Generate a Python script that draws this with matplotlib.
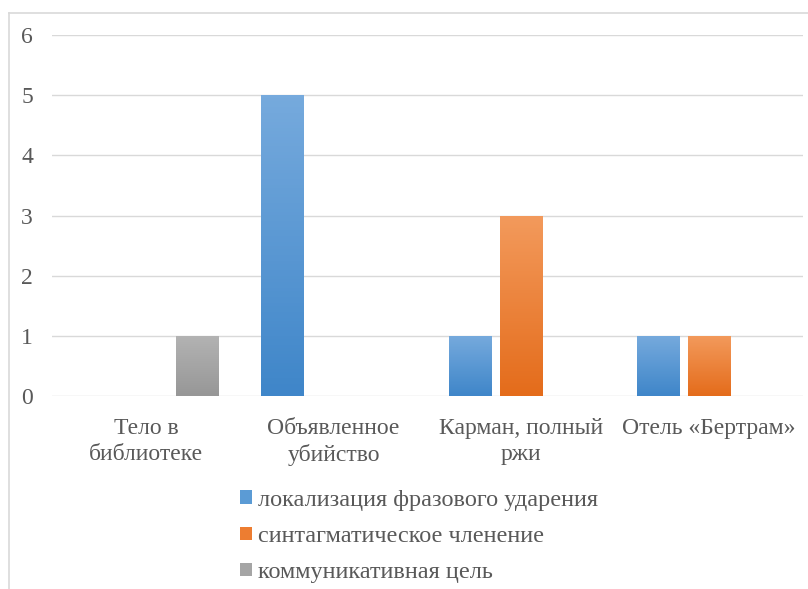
import matplotlib
matplotlib.use('Agg')

import numpy as np
import matplotlib.pyplot as plt
from matplotlib.colors import LinearSegmentedColormap
from matplotlib.lines import Line2D
from matplotlib.patches import Patch

# Data
categories = ["Тело в\nбиблиотеке", "Объявленное\nубийство",
              "Карман, полный\nржи", "Отель «Бертрам»"]
series_names = ["локализация фразового ударения",
                "синтагматическое членение",
                "коммуникативная цель"]
stress = [0, 5, 1, 1]
segmentation = [0, 0, 3, 1]
purpose = [1, 0, 0, 0]
values = [stress, segmentation, purpose]

# (top colour, bottom colour, legend colour)
colors = [("#76aadd", "#3f86c9", "#5b9bd5"),
          ("#f39a5c", "#e46c1b", "#ed7d31"),
          ("#b3b3b3", "#979797", "#a5a5a5")]

plt.rcParams['font.family'] = ['Liberation Serif', 'DejaVu Serif']
text_color = "#595959"
grid_color = "#d9d9d9"

fig = plt.figure(figsize=(8.08, 5.89), dpi=100)
ax = fig.add_axes([52/808, 1 - 396/589, 751/808, 361/589])

x = np.arange(len(categories))
step = 0.274
width = 0.224

for i, (vals, (top, bottom, _)) in enumerate(zip(values, colors)):
    bars = ax.bar(x + (i - 1) * step, vals, width, color="none", zorder=3)
    cmap = LinearSegmentedColormap.from_list("g%d" % i, [bottom, top])
    for b, v in zip(bars, vals):
        if v == 0:
            continue
        x0, y0 = b.get_x(), b.get_y()
        grad = np.linspace(0, 1, 100).reshape(-1, 1)
        im = ax.imshow(grad, cmap=cmap, origin='lower', aspect='auto',
                       extent=[x0, x0 + b.get_width(), y0, y0 + b.get_height()],
                       zorder=3)
        im.set_clip_path(b)

ax.set_xlim(-0.5, len(categories) - 0.5)
ax.set_ylim(0, 6)
ax.set_yticks(range(0, 7))
ax.grid(axis='y', color=grid_color, linewidth=1, zorder=0)
for s in ax.spines.values():
    s.set_visible(False)
ax.tick_params(length=0, colors=text_color, labelsize=17)
ax.tick_params(axis='y', pad=18)
ax.tick_params(axis='x', pad=16)
ax.set_xticks(x)
ax.set_xticklabels(categories, linespacing=1.3)
for lbl in ax.get_yticklabels():
    lbl.set_horizontalalignment('center')

handles = [Patch(facecolor=c[2], edgecolor='none') for c in colors]
fig.legend(handles, series_names, loc='center', bbox_to_anchor=(0.519, 0.089),
           ncol=1, frameon=False, fontsize=17.5, labelcolor=text_color,
           handlelength=0.5, handleheight=0.5, handletextpad=0.25,
           labelspacing=0.62)

# chart area border (top and left visible)
fig.add_artist(Line2D([9/808, 9/808], [0, 1 - 13/589], color=grid_color,
                      linewidth=1.2, transform=fig.transFigure))
fig.add_artist(Line2D([9/808, 1], [1 - 13/589, 1 - 13/589], color=grid_color,
                      linewidth=1.2, transform=fig.transFigure))

fig.savefig("out.png", dpi=100)
